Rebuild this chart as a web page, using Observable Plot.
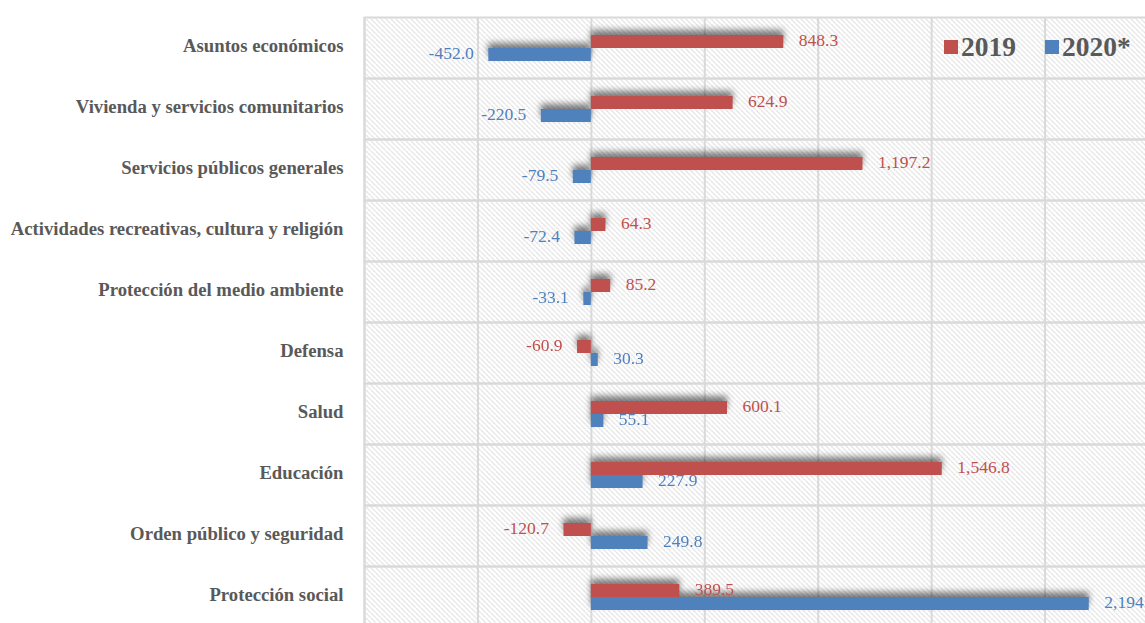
<!DOCTYPE html>
<html>
<head>
<meta charset="utf-8">
<script src="https://cdn.jsdelivr.net/npm/d3@7"></script>
<script src="https://cdn.jsdelivr.net/npm/@observablehq/plot@0.6"></script>
<style>
  html, body { margin: 0; padding: 0; background: #fff; overflow: hidden; width: 1145px; height: 623px; }
  #wrap { position: relative; width: 1145px; height: 623px; overflow: hidden; }
  #chart svg { max-width: none !important; }
  #legend { position: absolute; left: 944px; top: 31px; font-family: "Liberation Serif", "Times New Roman", serif; font-weight: bold; font-size: 27.5px; color: #595959; display: flex; align-items: center; }
  #legend .sw { display: inline-block; width: 14px; height: 14px; margin-right: 3px; }
  #legend .item { display: flex; align-items: center; margin-right: 29px; }
  g[aria-label="bar"] { filter: drop-shadow(0px -5px 3px rgba(0,0,0,0.5)); }
</style>
</head>
<body>
<svg width="0" height="0" style="position:absolute">
  <defs>
    <pattern id="hatch" patternUnits="userSpaceOnUse" width="5" height="5">
      <path d="M-1,-1 L6,6 M-1,4 L1,6 M4,-1 L6,1" stroke="#b9b9b9" stroke-width="1" stroke-dasharray="2,1"/>
    </pattern>
  </defs>
</svg>
<div id="wrap">
  <div id="chart"></div>
  <div id="legend">
    <span class="item"><span class="sw" style="background:#c0504d"></span>2019</span>
    <span class="item"><span class="sw" style="background:#4f81bd"></span>2020*</span>
  </div>
</div>
<script>
const categories = [
  "Asuntos económicos",
  "Vivienda y servicios comunitarios",
  "Servicios públicos generales",
  "Actividades recreativas, cultura y religión",
  "Protección del medio ambiente",
  "Defensa",
  "Salud",
  "Educación",
  "Orden público y seguridad",
  "Protección social"
];
const years = ["2019", "2020*"];
const values2019 = [848.3, 624.9, 1197.2, 64.3, 85.2, -60.9, 600.1, 1546.8, -120.7, 389.5];
const values2020 = [-452.0, -220.5, -79.5, -72.4, -33.1, 30.3, 55.1, 227.9, 249.8, 2194.8];
const xTicks = [-1000, -500, 0, 500, 1000, 1500, 2000, 2500];
const colors = ["#c0504d", "#4f81bd"];

const data = [];
categories.forEach((c, i) => {
  data.push({category: c, year: years[0], value: values2019[i]});
  data.push({category: c, year: years[1], value: values2020[i]});
});

const fmtAbs = d3.format(",.1f");
const fmt = v => (v < 0 ? "-" : "") + fmtAbs(Math.abs(v));
const serif = "'Liberation Serif', 'Times New Roman', serif";

const chart = Plot.plot({
  width: 1158,
  height: 630,
  marginLeft: 364,
  marginRight: 0,
  marginTop: 14,
  marginBottom: 0,
  style: {fontFamily: serif, background: "transparent", overflow: "visible", maxWidth: "none"},
  x: {domain: [-1000, 2500], axis: null},
  y: {domain: years, paddingInner: 0, paddingOuter: 1.2, axis: null},
  fy: {domain: categories, padding: 0, label: null, axis: null},
  color: {domain: years, range: colors},
  marks: [
    Plot.frame({fill: "url(#hatch)", stroke: null}),
    Plot.gridX(xTicks, {stroke: "#d9d9d9", strokeOpacity: 1, strokeWidth: 2}),
    Plot.frame({stroke: "#d9d9d9", strokeWidth: 2}),
    Plot.axisFy({anchor: "left", tickSize: 0, tickPadding: 21, dy: -2, fontSize: 18.7, fontWeight: "bold", fill: "#595959", label: null}),
    Plot.barX(data, {fy: "category", y: "year", x: "value", fill: "year"}),
    Plot.text(data.filter(d => d.value >= 0), {fy: "category", y: "year", x: "value", text: d => fmt(d.value), fill: "year", textAnchor: "start", dx: 15, dy: -2, fontSize: 17.5}),
    Plot.text(data.filter(d => d.value < 0), {fy: "category", y: "year", x: "value", text: d => fmt(d.value), fill: "year", textAnchor: "end", dx: -15, dy: -2, fontSize: 17.5})
  ]
});
document.getElementById("chart").appendChild(chart);
</script>
</body>
</html>
